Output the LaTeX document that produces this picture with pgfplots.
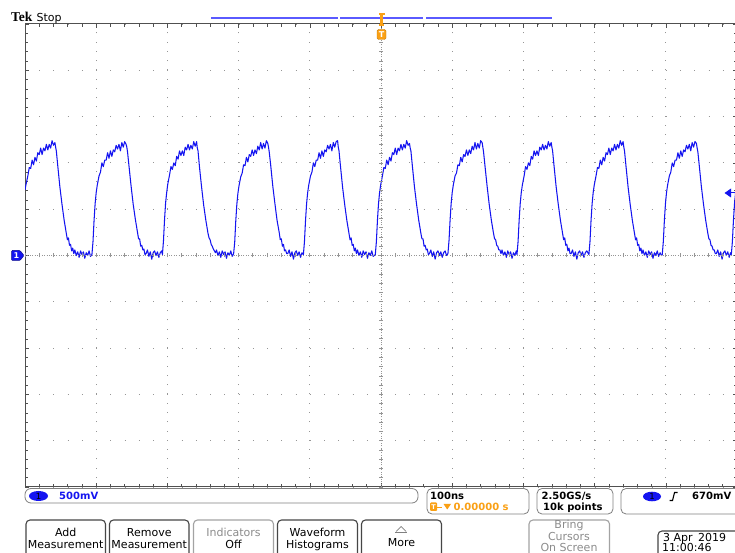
\documentclass[border=0pt]{standalone}
\usepackage{pgfplots}
\pgfplotsset{compat=1.18}
\usepackage{fontspec}
\setmainfont{DejaVu Sans}
\newfontfamily\tekfont{Liberation Serif}
\definecolor{trace}{RGB}{20,20,240}
\definecolor{barblue}{RGB}{90,90,255}
\definecolor{tekorange}{RGB}{250,160,20}
\definecolor{gridgray}{RGB}{150,150,150}
\definecolor{framegray}{RGB}{80,80,80}
\definecolor{btnborder}{RGB}{70,70,70}
\definecolor{dimgray}{RGB}{140,140,140}
\begin{document}
\begin{tikzpicture}[x=1pt,y=1pt,font=\fontsize{11}{13}\selectfont]
\useasboundingbox (0,0) rectangle (735,553);
\fill[white] (0,0) rectangle (735,553);
\begin{axis}[
  at={(25pt,66pt)}, anchor=south west,
  scale only axis, width=712pt, height=463pt,
  xmin=-500, xmax=500, ymin=-2.5, ymax=2.5,
  xtick={-500,-400,...,500}, ytick={-2.5,-2,...,2.5},
  minor x tick num=4, minor y tick num=4,
  xticklabels={}, yticklabels={},
  tick align=inside, major tick length=4pt, minor tick length=3pt,
  tick style={framegray, line width=0.6pt},
  axis line style={framegray, line width=1pt},
  grid=major,
  x grid style={gridgray, line width=0.9pt, dash pattern=on 0.9pt off 8.36pt},
  y grid style={gridgray, line width=0.9pt, dash pattern=on 0.9pt off 13.34pt},
]
\addplot[trace, line width=1.05pt, line join=round] coordinates {
(-500,0.71) (-498.5,0.77) (-496,0.86)
(-494,0.95) (-492,0.94) (-490,1.03) (-488,0.98) (-486,1.06) (-484,1.02) (-482,1.11) (-480,1.09) (-478,1.16) (-476,1.09) (-474,1.16) (-472,1.13) (-470,1.20) (-468,1.14) (-466,1.20) (-464,1.16) (-462,1.24) (-460,1.19) (-458,1.22)
(-457,1.17) (-456,1.13) (-454,0.97) (-451,0.74) (-448,0.55) (-445,0.38) (-442,0.24) (-440.5,0.17) (-439,0.19) (-437.5,0.11) (-436,0.12) (-434.5,0.05) (-433,0.08) (-431.5,0.02)
(-430,0.06) (-428,0.00) (-426,0.04) (-424,-0.02) (-422,0.05) (-420,0.01) (-418,0.04) (-416,-0.03) (-414,0.03) (-412,0.00) (-410,0.05) (-408,-0.01)
(-406,0.01) (-404.5,0.15) (-403,0.38) (-401.5,0.56) (-400,0.68) (-398.5,0.76) (-396,0.86)
(-394,0.90) (-392,1.00) (-390,0.96) (-388,1.03) (-386,1.03) (-384,1.11) (-382,1.05) (-380,1.13) (-378,1.07) (-376,1.14) (-374,1.12) (-372,1.19) (-370,1.15) (-368,1.20) (-366,1.13) (-364,1.22) (-362,1.17) (-360,1.23) (-358,1.20)
(-357,1.17) (-356,1.12) (-354,0.97) (-351,0.75) (-348,0.55) (-345,0.39) (-342,0.25) (-340.5,0.18) (-339,0.18) (-337.5,0.10) (-336,0.11) (-334.5,0.06) (-333,0.07) (-331.5,0.01)
(-330,0.02) (-328,0.06) (-326,-0.01) (-324,0.04) (-322,-0.04) (-320,0.03) (-318,0.05) (-316,0.00) (-314,0.04) (-312,-0.02) (-310,0.03) (-308,0.05)
(-307,0.01) (-305.5,0.16) (-304,0.39) (-302.5,0.57) (-301,0.68) (-299.5,0.77) (-297,0.87)
(-295,0.96) (-293,0.93) (-291,1.00) (-289,0.97) (-287,1.07) (-285,1.04) (-283,1.13) (-281,1.08) (-279,1.13) (-277,1.08) (-275,1.17) (-273,1.14) (-271,1.20) (-269,1.14) (-267,1.19) (-265,1.15) (-263,1.23) (-261,1.18) (-259,1.23)
(-258,1.16) (-257,1.13) (-255,0.96) (-252,0.74) (-249,0.54) (-246,0.38) (-243,0.24) (-241.5,0.19) (-240,0.17) (-238.5,0.12) (-237,0.10) (-235.5,0.07) (-234,0.05) (-232.5,0.03)
(-231,0.06) (-229,0.00) (-227,0.04) (-225,-0.02) (-223,0.05) (-221,0.01) (-219,0.04) (-217,-0.03) (-215,0.03) (-213,0.00) (-211,0.05) (-209,-0.01)
(-207,0.02) (-205.5,0.14) (-204,0.37) (-202.5,0.55) (-201,0.67) (-199.5,0.75) (-197,0.85)
(-195,0.89) (-193,0.98) (-191,0.97) (-189,1.06) (-187,1.01) (-185,1.09) (-183,1.07) (-181,1.14) (-179,1.08) (-177,1.14) (-175,1.10) (-173,1.18) (-171,1.14) (-169,1.22) (-167,1.15) (-165,1.21) (-163,1.16) (-161,1.24) (-159,1.21)
(-158,1.17) (-157,1.12) (-155,0.98) (-152,0.75) (-149,0.56) (-146,0.38) (-143,0.25) (-141.5,0.17) (-140,0.18) (-138.5,0.10) (-137,0.12) (-135.5,0.05) (-134,0.06) (-132.5,0.02)
(-131,0.02) (-129,0.06) (-127,-0.01) (-125,0.04) (-123,-0.04) (-121,0.03) (-119,0.05) (-117,0.00) (-115,0.04) (-113,-0.02) (-111,0.03)
(-109,0.01) (-107.5,0.15) (-106,0.38) (-104.5,0.56) (-103,0.68) (-101.5,0.76) (-99,0.86)
(-97,0.90) (-95,1.00) (-93,0.96) (-91,1.03) (-89,1.03) (-87,1.11) (-85,1.05) (-83,1.13) (-81,1.07) (-79,1.14) (-77,1.12) (-75,1.19) (-73,1.15) (-71,1.20) (-69,1.13) (-67,1.22) (-65,1.17) (-63,1.23) (-61,1.24)
(-60,1.17) (-59,1.13) (-57,0.97) (-54,0.74) (-51,0.55) (-48,0.38) (-45,0.24) (-43.5,0.17) (-42,0.19) (-40.5,0.11) (-39,0.12) (-37.5,0.05) (-36,0.08) (-34.5,0.02)
(-33,0.06) (-31,0.00) (-29,0.04) (-27,-0.02) (-25,0.05) (-23,0.01) (-21,0.04) (-19,-0.03) (-17,0.03) (-15,0.00) (-13,0.05) (-11,-0.01)
(-8,0.01) (-6.5,0.15) (-5,0.38) (-3.5,0.56) (-2,0.68) (-0.5,0.76) (2,0.86)
(4,0.95) (6,0.94) (8,1.03) (10,0.98) (12,1.06) (14,1.02) (16,1.11) (18,1.09) (20,1.16) (22,1.09) (24,1.16) (26,1.13) (28,1.20) (30,1.14) (32,1.20) (34,1.16) (36,1.24) (38,1.19) (40,1.21)
(41,1.16) (42,1.13) (44,0.97) (47,0.74) (50,0.55) (53,0.38) (56,0.24) (57.5,0.18) (59,0.18) (60.5,0.10) (62,0.11) (63.5,0.06) (65,0.07) (66.5,0.01)
(68,0.02) (70,0.06) (72,-0.01) (74,0.04) (76,-0.04) (78,0.03) (80,0.05) (82,0.00) (84,0.04) (86,-0.02) (88,0.03) (90,0.05) (92,0.00)
(94,0.02) (95.5,0.16) (97,0.38) (98.5,0.56) (100,0.68) (101.5,0.76) (104,0.86)
(106,0.89) (108,0.98) (110,0.97) (112,1.06) (114,1.01) (116,1.09) (118,1.07) (120,1.14) (122,1.08) (124,1.14) (126,1.10) (128,1.18) (130,1.14) (132,1.22) (134,1.15) (136,1.21) (138,1.16) (140,1.24) (142,1.22)
(143,1.17) (144,1.12) (146,0.97) (149,0.75) (152,0.55) (155,0.38) (158,0.24) (159.5,0.18) (161,0.17) (162.5,0.11) (164,0.10) (165.5,0.06) (167,0.06) (168.5,0.02)
(170,0.06) (172,0.00) (174,0.04) (176,-0.02) (178,0.05) (180,0.01) (182,0.04) (184,-0.03) (186,0.03) (188,0.00) (190,0.05)
(191,0.01) (192.5,0.15) (194,0.38) (195.5,0.56) (197,0.68) (198.5,0.76) (201,0.86)
(203,0.96) (205,0.93) (207,1.00) (209,0.97) (211,1.07) (213,1.04) (215,1.13) (217,1.08) (219,1.13) (221,1.08) (223,1.17) (225,1.14) (227,1.20) (229,1.14) (231,1.19) (233,1.15) (235,1.23) (237,1.18) (239,1.22)
(240,1.17) (241,1.13) (243,0.97) (246,0.74) (249,0.55) (252,0.38) (255,0.24) (256.5,0.17) (258,0.19) (259.5,0.11) (261,0.12) (262.5,0.05) (264,0.08) (265.5,0.02)
(267,0.02) (269,0.06) (271,-0.01) (273,0.04) (275,-0.04) (277,0.03) (279,0.05) (281,0.00) (283,0.04) (285,-0.02) (287,0.03) (289,0.05)
(292,0.01) (293.5,0.15) (295,0.38) (296.5,0.56) (298,0.68) (299.5,0.76) (302,0.86)
(304,0.95) (306,0.94) (308,1.03) (310,0.98) (312,1.06) (314,1.02) (316,1.11) (318,1.09) (320,1.16) (322,1.09) (324,1.16) (326,1.13) (328,1.20) (330,1.14) (332,1.20) (334,1.16) (336,1.24) (338,1.19) (340,1.23)
(341,1.17) (342,1.13) (344,0.97) (347,0.74) (350,0.55) (353,0.38) (356,0.24) (357.5,0.17) (359,0.19) (360.5,0.11) (362,0.12) (363.5,0.05) (365,0.08) (366.5,0.02)
(368,0.06) (370,0.00) (372,0.04) (374,-0.02) (376,0.05) (378,0.01) (380,0.04) (382,-0.03) (384,0.03) (386,0.00) (388,0.05) (390,-0.01) (392,0.03) (394,0.00)
(395,0.01) (396.5,0.15) (398,0.38) (399.5,0.56) (401,0.68) (402.5,0.76) (405,0.86)
(407,0.90) (409,1.00) (411,0.96) (413,1.03) (415,1.03) (417,1.11) (419,1.05) (421,1.13) (423,1.07) (425,1.14) (427,1.12) (429,1.19) (431,1.15) (433,1.20) (435,1.13) (437,1.22) (439,1.17) (441,1.23) (443,1.21)
(444,1.16) (445,1.12) (447,0.97) (450,0.74) (453,0.55) (456,0.38) (459,0.24) (460.5,0.18) (462,0.17) (463.5,0.11) (465,0.10) (466.5,0.06) (468,0.06) (469.5,0.02)
(471,0.02) (473,0.06) (475,-0.01) (477,0.04) (479,-0.04) (481,0.03) (483,0.05) (485,0.00) (487,0.04) (489,-0.02) (491,0.03)
(492,0.01) (493.5,0.15) (495,0.38) (496.5,0.56) (498,0.68) (499.5,0.76) (500,0.78)
};
\end{axis}
% centre cross with fine ticks
\draw[gridgray, line width=0.9pt, dash pattern=on 0.9pt off 1.5pt] (25,297.5) -- (737,297.5);
\draw[gridgray, line width=0.9pt, dash pattern=on 0.9pt off 1.5pt] (381,66) -- (381,529);
\foreach \i in {0,...,50} { \draw[gridgray, line width=0.7pt] ({25+\i*14.24},295.5) -- ++(0,4); }
\foreach \i in {0,...,50} { \draw[gridgray, line width=0.7pt] (379,{66+\i*9.26}) -- ++(4,0); }
% header
\node[anchor=base west, inner sep=0pt, font=\tekfont\bfseries\fontsize{13.5}{15}\selectfont] at (11,531.5) {Tek};
\node[anchor=base west, inner sep=0pt, font=\fontsize{11}{12}\selectfont] at (36.5,531.5) {Stop};
\draw[barblue, line width=1.4pt] (211,535) -- (338,535);
\draw[barblue, line width=1.4pt] (340,535) -- (423,535);
\draw[barblue, line width=1.4pt] (426,535) -- (551.5,535);
% trigger position marker
\fill[tekorange] (378.5,539.5) rectangle (384.5,537.5);
\fill[tekorange] (380,539) rectangle (383,528);
\fill[tekorange] (379,529) rectangle (384,527);
\filldraw[fill=tekorange, draw=tekorange!80!black, line width=0.4pt, rounded corners=1.5pt] (377,523.5) rectangle (386,513.5);
\node[white, font=\bfseries\fontsize{8}{9}\selectfont, inner sep=0pt] at (381.5,518.5) {T};
% ground marker
\filldraw[fill=trace, draw=trace!60!black, line width=0.5pt, rounded corners=1pt] (11.5,302.5) -- (20,302.5) -- (24,297.5) -- (20,292.5) -- (11.5,292.5) -- cycle;
\node[white, font=\bfseries\fontsize{8}{9}\selectfont, inner sep=0pt] at (16.5,297.5) {1};
% trigger level marker
\fill[trace] (724.5,360) -- (731,364.5) -- (731,355.5) -- cycle;
\draw[trace, line width=1pt] (730,360) -- (735,360);
% status bar
\draw[gray, line width=0.8pt, rounded corners=6pt] (25,50) rectangle (418,64.5);
\fill[trace] (38.5,57) ellipse (9.5 and 5);
\node[black, font=\fontsize{8.5}{9}\selectfont, inner sep=0pt] at (38.5,57) {1};
\node[anchor=base west, inner sep=0pt, trace, font=\bfseries\fontsize{10}{12}\selectfont] at (59,53) {500mV};
\draw[gray, line width=0.8pt, rounded corners=5pt] (427,39) rectangle (529,64.5);
\node[anchor=base west, inner sep=0pt, font=\bfseries\fontsize{10}{12}\selectfont] at (430,53) {100ns};
\fill[tekorange, rounded corners=1pt] (430,42) rectangle (437,50.5);
\node[white, font=\bfseries\fontsize{6.5}{7}\selectfont, inner sep=0pt] at (433.5,46.2) {T};
\draw[tekorange, line width=0.9pt] (437,46) -- (442,46);
\fill[tekorange] (443.5,49) -- (451,49) -- (447.25,43.5) -- cycle;
\node[anchor=base west, inner sep=0pt, tekorange, font=\bfseries\fontsize{10}{12}\selectfont] at (453.5,42) {0.00000 s};
\draw[gray, line width=0.8pt, rounded corners=5pt] (537,39) rectangle (613,64.5);
\node[anchor=base west, inner sep=0pt, font=\bfseries\fontsize{10}{12}\selectfont] at (541.5,53) {2.50GS/s};
\node[anchor=base west, inner sep=0pt, font=\bfseries\fontsize{10}{12}\selectfont] at (543,42) {10k points};
\draw[gray, line width=0.8pt, rounded corners=5pt] (621,39) rectangle (745,64.5);
\fill[trace] (652,56.5) ellipse (9 and 4.8);
\node[black, font=\fontsize{8.5}{9}\selectfont, inner sep=0pt] at (652,56.5) {1};
\draw[black, line width=1.1pt] (669.5,52.5) -- (672.5,52.5) -- (674.5,60.5) -- (677.5,60.5);
\node[anchor=base west, inner sep=0pt, font=\bfseries\fontsize{10}{12}\selectfont] at (692,53) {670mV};
% buttons
\foreach \xa/\xb/\la/\lb in {26/105.5/Add/Measurement, 109.5/189/Remove/Measurement, 277.5/357.5/Waveform/Histograms} {
  \draw[btnborder, line width=1.1pt, rounded corners=4pt] (\xa,-6) rectangle (\xb,33);
  \node[anchor=base, inner sep=0pt] at ({(\xa+\xb)/2},16.3) {\la};
  \node[anchor=base, inner sep=0pt] at ({(\xa+\xb)/2},4.7) {\lb};
}
\draw[dimgray!80, line width=1.1pt, rounded corners=4pt] (193.5,-6) rectangle (273.5,33);
\node[anchor=base, inner sep=0pt, dimgray] at (233.5,16.3) {Indicators};
\node[anchor=base, inner sep=0pt] at (233.5,4.7) {Off};
\draw[btnborder, line width=1.1pt, rounded corners=4pt] (361.5,-6) rectangle (441.5,33);
\draw[gray, line width=0.7pt] (396,21.5) -- (401,26.5) -- (406,21.5);
\draw[gray, line width=0.7pt] (395,20.5) -- (407,20.5);
\node[anchor=base, inner sep=0pt] at (401.5,6.3) {More};
\draw[dimgray!80, line width=1.1pt, rounded corners=4pt] (529,-6) rectangle (609.5,33);
\node[anchor=base, inner sep=0pt, dimgray] at (569,24) {Bring};
\node[anchor=base, inner sep=0pt, dimgray] at (569,12.5) {Cursors};
\node[anchor=base, inner sep=0pt, dimgray] at (569,1.2) {On Screen};
\draw[btnborder, line width=1.1pt, rounded corners=4pt] (658,-6) rectangle (745,22);
\node[anchor=base west, inner sep=0pt] at (663,11) {3 Apr\hspace{0.5em}2019};
\node[anchor=base west, inner sep=0pt] at (662,1.2) {11:00:46};
\end{tikzpicture}
\end{document}
